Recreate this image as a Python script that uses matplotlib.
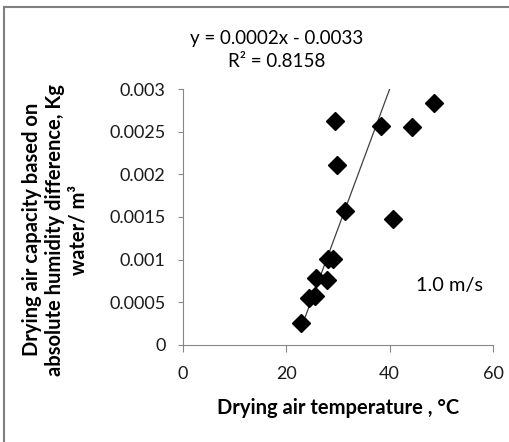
import numpy as np
import matplotlib.pyplot as plt
from matplotlib.lines import Line2D

plt.rcParams['font.family'] = ['Lato', 'DejaVu Sans']

# drying air temperature (C) and drying air capacity (kg water / m3), 1.0 m/s
temp = [22.8, 24.4, 25.5, 25.7, 27.8, 28.1, 29.0, 29.4, 29.9, 31.4, 38.4, 40.6, 44.4, 48.5]
capacity = [0.00026, 0.00055, 0.00057, 0.00078, 0.00076, 0.00101, 0.00101,
            0.00263, 0.00211, 0.00157, 0.00257, 0.00148, 0.00256, 0.00284]

# trendline as drawn in the picture (slope, intercept)
trend = [0.0001635, -0.00354]

xticks = [0, 20, 40, 60]
yticks = [0, 0.0005, 0.001, 0.0015, 0.002, 0.0025, 0.003]
ytick_labels = ['0', '0.0005', '0.001', '0.0015', '0.002', '0.0025', '0.003']

fig = plt.figure(figsize=(5.1, 4.42), dpi=100)
ax = fig.add_axes([0.3588, 0.2195, 0.6079, 0.5791])

xs = np.array([min(temp), max(temp)])
ax.plot(xs, trend[0]*xs + trend[1], color='#404040', lw=0.9)

ax.plot(temp, capacity, 'D', color='black', ms=9)

ax.set_xlim(0, 60)
ax.set_ylim(0, 0.003)
ax.set_xticks(xticks)
ax.set_yticks(yticks)
ax.set_yticklabels(ytick_labels)
for s in ['top', 'right']:
    ax.spines[s].set_visible(False)
for s in ['left', 'bottom']:
    ax.spines[s].set_color('#868686')
ax.tick_params(colors='#868686', labelcolor='#1a1a1a', labelsize=13)
ax.tick_params(axis='x', length=5, pad=10)
ax.tick_params(axis='y', length=3.6, pad=9)

ax.set_xlabel('Drying air temperature , °C', fontsize=14.5, fontweight='bold', labelpad=12)
fig.text(0.108, 0.48, 'Drying air capacity based on\nabsolute humidity difference, Kg\nwater/ m³',
         rotation=90, ha='center', va='center', fontsize=14.5, fontweight='bold',
         multialignment='center', linespacing=1.2)

fig.text(0.543, 0.914, 'y = 0.0002x - 0.0033', ha='center', va='center', fontsize=13.5)
fig.text(0.543, 0.86, 'R² = 0.8158', ha='center', va='center', fontsize=13.5)
fig.text(0.882, 0.355, '1.0 m/s', ha='center', va='center', fontsize=14.4)

# chart frame (only top and left edges show)
fig.add_artist(Line2D([0.008, 1.0], [0.984, 0.984], transform=fig.transFigure, color='#808080', lw=1.5))
fig.add_artist(Line2D([0.008, 0.008], [0.0, 0.984], transform=fig.transFigure, color='#808080', lw=1.5))

fig.savefig('out.png', dpi=100)
